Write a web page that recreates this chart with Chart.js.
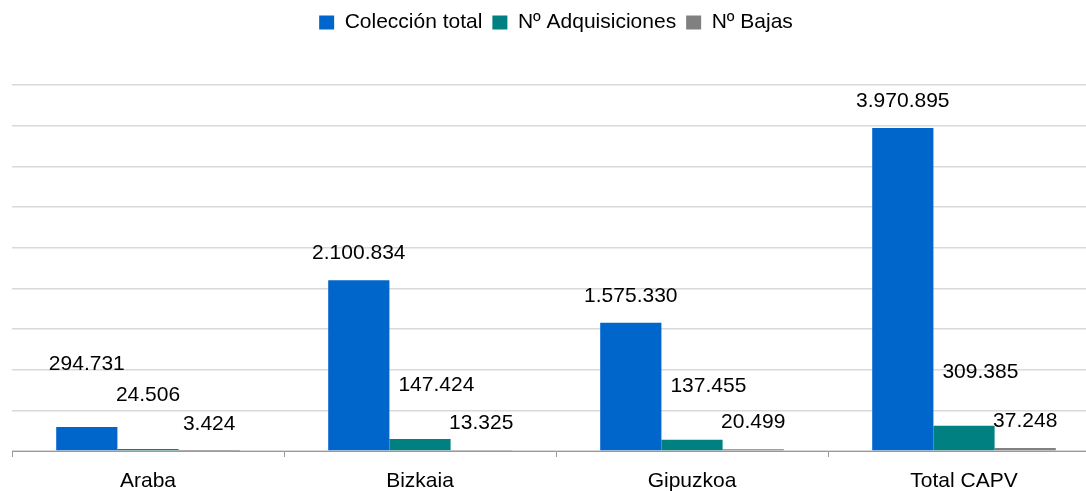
<!DOCTYPE html>
<html>
<head>
<meta charset="utf-8">
<script src="https://cdn.jsdelivr.net/npm/chart.js@4/dist/chart.umd.min.js"></script>
<style>
	html, body { margin: 0; padding: 0; background: #fff; overflow: hidden; }
	#wrap { width: 1100px; height: 491px; }
</style>
</head>
<body>
<div id="wrap"><canvas id="bibGraph"></canvas></div>
<script>
const categories = ['Araba', 'Bizkaia', 'Gipuzkoa', 'Total CAPV'];
const seriesNames = ['Colección total', 'Nº Adquisiciones', 'Nº Bajas'];
const coleccion = [294731, 2100834, 1575330, 3970895];
const adquisiciones = [24506, 147424, 137455, 309385];
const bajas = [3424, 13325, 20499, 37248];

const series = [coleccion, adquisiciones, bajas];
const colors = ['#0066cc', '#008080', '#808080'];
const labelRise = [27, 54, 27];

Chart.defaults.font.family = '"Liberation Sans", Arial, sans-serif';
Chart.defaults.color = '#000';

function fmt(v) {
	return String(v).replace(/\B(?=(\d{3})+(?!\d))/g, '.');
}

// legend takes the whole band above the plot
const legendHeight = {
	id: 'legendHeight',
	beforeInit(chart) {
		const fit = chart.legend.fit;
		chart.legend.fit = function () {
			fit.bind(chart.legend)();
			this.height = 83;
		};
	}
};

// value labels, nudged apart roughly like the original
const valueLabels = {
	id: 'valueLabels',
	afterDatasetsDraw(chart) {
		const ctx = chart.ctx;
		ctx.save();
		ctx.font = '21px "Liberation Sans", Arial, sans-serif';
		ctx.fillStyle = '#000';
		ctx.textAlign = 'center';
		ctx.textBaseline = 'middle';
		const lh = 31;
		categories.forEach((c, i) => {
			const bars = series.map((s, k) => chart.getDatasetMeta(k).data[i]);
			const boxes = bars.map((bar, k) => {
				const text = fmt(series[k][i]);
				return { text: text, w: ctx.measureText(text).width, x: bar.x, y: bar.y - labelRise[k] };
			});
			const blue = bars[0], tl = boxes[1], bl = boxes[0];
			if (tl.y + 10 > blue.y && tl.x - tl.w / 2 < blue.x + blue.width / 2 + 9) {
				tl.x = blue.x + blue.width / 2 + 9 + tl.w / 2;
			}
			if (Math.abs(bl.x - tl.x) < (bl.w + tl.w) / 2 && bl.y > tl.y - lh) {
				bl.y = tl.y - lh;
			}
			boxes.forEach(b => ctx.fillText(b.text, b.x, b.y));
		});
		ctx.restore();
	}
};

let chartData = {
	labels: categories,
	datasets: series.map((s, k) => ({
		label: seriesNames[k],
		data: s,
		backgroundColor: colors[k],
		borderWidth: 0,
		categoryPercentage: 0.675,
		barPercentage: 1.0
	}))
};

new Chart(document.getElementById('bibGraph'), {
	type: 'bar',
	data: chartData,
	plugins: [legendHeight, valueLabels],
	options: {
		responsive: true,
		maintainAspectRatio: false,
		animation: false,
		layout: { padding: { left: 12, right: 0, top: 2, bottom: 0 } },
		plugins: {
			legend: {
				position: 'top',
				labels: {
					boxWidth: 15,
					boxHeight: 14,
					padding: 10,
					font: { size: 21 },
					color: '#000'
				}
			},
			tooltip: { enabled: false }
		},
		scales: {
			x: {
				grid: {
					drawOnChartArea: false,
					drawTicks: true,
					tickLength: 6,
					color: '#999'
				},
				border: { color: '#999', width: 1 },
				ticks: { font: { size: 21 }, color: '#000', padding: 12 },
				afterFit(scale) { scale.height = 40; }
			},
			y: {
				min: 0,
				max: 4500000,
				ticks: { display: false, stepSize: 500000 },
				grid: { color: '#d9d9d9', lineWidth: 1.5, drawTicks: false },
				border: { display: false },
				afterFit(scale) { scale.width = 0; }
			}
		}
	}
});
</script>
</body>
</html>
